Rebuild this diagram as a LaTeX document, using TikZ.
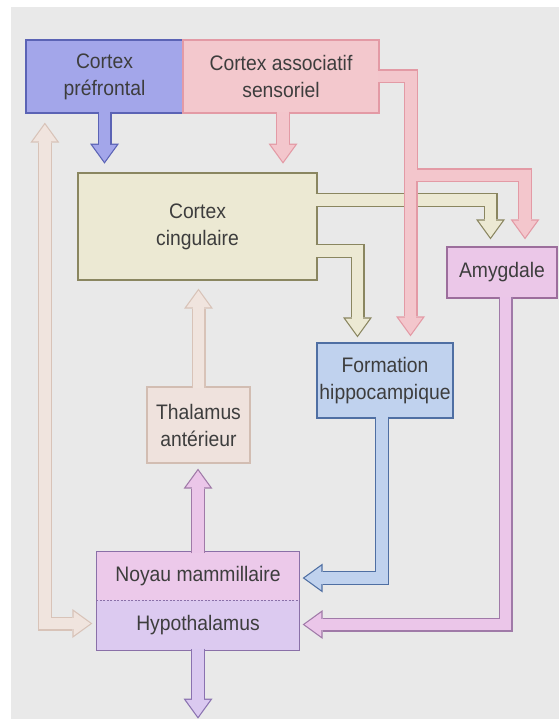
\documentclass[tikz,border=0pt]{standalone}
\usepackage{fontspec}
\setmainfont{Liberation Sans}[FakeStretch=0.92]
\usetikzlibrary{arrows.meta,calc}

\definecolor{bg}{HTML}{E9E9E9}
\definecolor{ink}{HTML}{3D3D3D}
\definecolor{preffill}{HTML}{A3A6EA}
\definecolor{prefline}{HTML}{5B63B5}
\definecolor{assocfill}{HTML}{F3C8CD}
\definecolor{assocline}{HTML}{E39AA5}
\definecolor{cingfill}{HTML}{ECE9D3}
\definecolor{cingline}{HTML}{8A8660}
\definecolor{amygfill}{HTML}{EBC7E8}
\definecolor{amygline}{HTML}{9C6E9C}
\definecolor{formfill}{HTML}{C0D2EE}
\definecolor{formline}{HTML}{4F6FA3}
\definecolor{thalfill}{HTML}{EFE2DD}
\definecolor{thalline}{HTML}{D2BDB2}
\definecolor{noyaufill}{HTML}{ECC9EA}
\definecolor{hypofill}{HTML}{DCCAF0}
\definecolor{hypoline}{HTML}{8A70A8}
% arrow colours: rim = outline, core = inside
\definecolor{bluerim}{HTML}{5B63B5}
\definecolor{bluecore}{HTML}{A3A6EA}
\definecolor{pinkrim}{HTML}{E39AA5}
\definecolor{pinkcore}{HTML}{F3C6CC}
\definecolor{tanrim}{HTML}{8A8660}
\definecolor{tancore}{HTML}{ECE9D3}
\definecolor{skyrim}{HTML}{4F6FA3}
\definecolor{skycore}{HTML}{C0D2EE}
\definecolor{palerim}{HTML}{D8C3B8}
\definecolor{palecore}{HTML}{F0E4DE}
\definecolor{mauverim}{HTML}{A07AA8}
\definecolor{mauvecore}{HTML}{EBC6E9}
\definecolor{violetrim}{HTML}{8A72B0}
\definecolor{violetcore}{HTML}{DAC9F0}

\tikzset{
	box/.style={draw, line width=1.3pt, inner sep=0pt, align=center, text=ink},
	part/.style={box, draw=none},
	rim/.style={line width=14pt, shorten <=-2pt, >={Triangle[length=20pt,width=29pt,line width=0pt]}},
	core/.style={line width=11.6pt, shorten <=-2pt, shorten >=2.04pt, >={Triangle[length=16.8pt,width=24.3pt,line width=0pt]}},
	rim dbl/.style={shorten <=0pt},
	core dbl/.style={shorten <=2.04pt},
}

\begin{document}
\begin{tikzpicture}[x=1pt, y=-1pt, every node/.style={font=\fontsize{21}{27}\selectfont}]
	\useasboundingbox (0,0) rectangle (559,719);
	\fill[bg] (11,7) rectangle (559,719);
	% boxes
	\node[box, fill=preffill, draw=prefline, minimum width=157pt, minimum height=73pt] (pref) at (104.5,76.5) {Cortex\\préfrontal};
	\node[box, fill=assocfill, draw=assocline, minimum width=196pt, minimum height=73pt] (assoc) at (281,76.5) {Cortex associatif\\sensoriel};
	\node[box, fill=cingfill, draw=cingline, minimum width=239pt, minimum height=107pt] (cing) at (197.5,226.5) {Cortex\\cingulaire};
	\node[box, fill=amygfill, draw=amygline, minimum width=110pt, minimum height=51pt] (amyg) at (502,272.5) {Amygdale};
	\node[box, fill=formfill, draw=formline, minimum width=136pt, minimum height=75pt] (form) at (385,380.5) {Formation\\hippocampique};
	\node[box, fill=thalfill, draw=thalline, minimum width=103pt, minimum height=76pt] (thal) at (198.5,425) {Thalamus\\antérieur};
	\node[part, fill=noyaufill, minimum width=202pt, minimum height=48pt] (noyau) at (198,576) {Noyau mammillaire};
	\node[part, fill=hypofill, minimum width=202pt, minimum height=50pt] (hypo) at (198,625) {Hypothalamus};
	\draw[hypoline, line width=1.3pt] (noyau.north west) rectangle (hypo.south east);
	\draw[hypoline, line width=1pt, dash pattern=on 2pt off 1.5pt] (noyau.south west) -- (noyau.south east);
	% fat arrows: rim first, then core
	\foreach \p in {rim,core} {
		\draw[\p, draw=blue\p, ->] (pref.south) -- ++(0,50);
		\draw[\p, draw=pale\p, ->] (thal.north) -- ($(thal.north |- cing.south)+(0,8)$);
		\draw[\p, draw=pale\p, <->, \p\space dbl] ($(pref.south west)+(19.5,9)$) |- ($(hypo.west)+(-4,-1.5)$);
		\draw[\p, draw=mauve\p, ->] (noyau.north) -- ($(noyau.north |- thal.south)+(0,5)$);
		\draw[\p, draw=mauve\p, ->] ([xshift=3.5pt]amyg.south) |- ($(hypo.east)+(3,-0.5)$);
		\draw[\p, draw=violet\p, ->] (hypo.south) -- ++(0,68);
		\draw[\p, draw=sky\p, ->] ([xshift=-3pt]form.south) |- ($(noyau.east)+(3,2)$);
	}
	\foreach \p in {rim,core} {
		\draw[\p, draw=tan\p, ->] ([yshift=26.5pt]cing.east) -| ($(amyg.north)+(-11.5,-7)$);
		\draw[\p, draw=tan\p, ->] ([yshift=-24.5pt]cing.east) -| ($(form.north)+(-27.5,-5)$);
	}
	\foreach \p in {rim,core} {
		\draw[\p, draw=pink\p, ->] ([xshift=2pt]assoc.south) -- ++(0,50);
		\draw[\p, draw=pink\p, ->] (assoc.east) -| ($(form.north)+(25.5,-6)$);
		\draw[\p, draw=pink\p, ->] (assoc.east) -| ($(assoc.east)+(31.5,99)$) -| ($(amyg.north)+(23,-7)$);
	}
\end{tikzpicture}
\end{document}
